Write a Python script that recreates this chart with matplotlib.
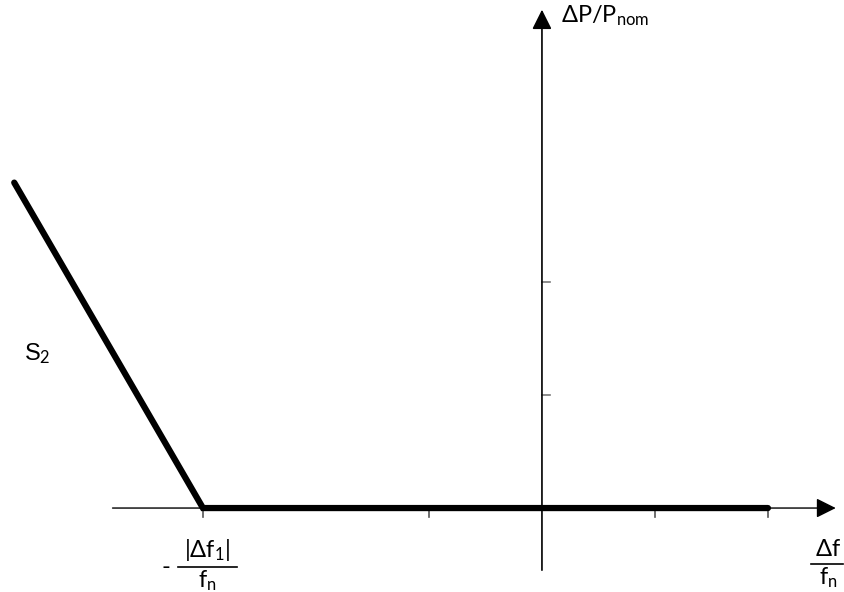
import matplotlib
matplotlib.use("Agg")
import matplotlib.pyplot as plt

plt.rcParams['font.family'] = ['Lato', 'DejaVu Sans']
plt.rcParams['mathtext.fontset'] = 'custom'
plt.rcParams['mathtext.rm'] = 'Lato'
plt.rcParams['mathtext.it'] = 'Lato'

# characteristic curve (per unit of tick spacing)
curve_x = [-4.67, -3.0, 2.0]
curve_y = [2.88, 0.0, 0.0]

# axis ticks
xticks = [-3, -1, 1, 2]
yticks = [1, 2]

fig = plt.figure(figsize=(8.44, 5.92), dpi=100)
ax = fig.add_axes([0, 0, 1, 1])
ax.set_xlim(-4.796, 2.673)
ax.set_ylim(-0.743, 4.496)
ax.axis('off')

# axes with arrows
ax.annotate('', xy=(2.6, 0), xytext=(-3.8, 0),
            arrowprops=dict(arrowstyle='-|>', color='black', lw=1.0,
                            mutation_scale=30, shrinkA=0, shrinkB=0))
ax.annotate('', xy=(0, 4.41), xytext=(0, -0.55),
            arrowprops=dict(arrowstyle='-|>', color='black', lw=1.2,
                            mutation_scale=30, shrinkA=0, shrinkB=0))

# ticks
for t in xticks:
    ax.plot([t, t], [0, -0.075], color='#555555', lw=1.2)
for t in yticks:
    ax.plot([0, 0.075], [t, t], color='#777777', lw=1.2)

# curve
ax.plot(curve_x, curve_y, color='black', lw=4.5, solid_capstyle='round',
        solid_joinstyle='miter')

# labels
ax.text(0.17, 4.36, r'$\Delta$P/P$_{\mathrm{nom}}$', fontsize=17,
        ha='left', va='center')
ax.text(-4.58, 1.37, r'S$_2$', fontsize=17, ha='left', va='center',
        family='Liberation Sans')

# -|df1|/fn
ax.text(-3.33, -0.53, '-', fontsize=17, ha='center', va='center')
ax.plot([-3.22, -2.7], [-0.52, -0.52], color='black', lw=1.2)
ax.text(-2.96, -0.37, r'|$\Delta$f$_1$|', fontsize=17, ha='center', va='center')
ax.text(-2.96, -0.64, r'f$_{\mathrm{n}}$', fontsize=17, ha='center', va='center')

# df/fn
ax.plot([2.38, 2.66], [-0.495, -0.495], color='black', lw=1.2)
ax.text(2.53, -0.365, r'$\Delta$f', fontsize=17, ha='center', va='center')
ax.text(2.53, -0.62, r'f$_{\mathrm{n}}$', fontsize=17, ha='center', va='center')

fig.savefig('out.png', dpi=100)
